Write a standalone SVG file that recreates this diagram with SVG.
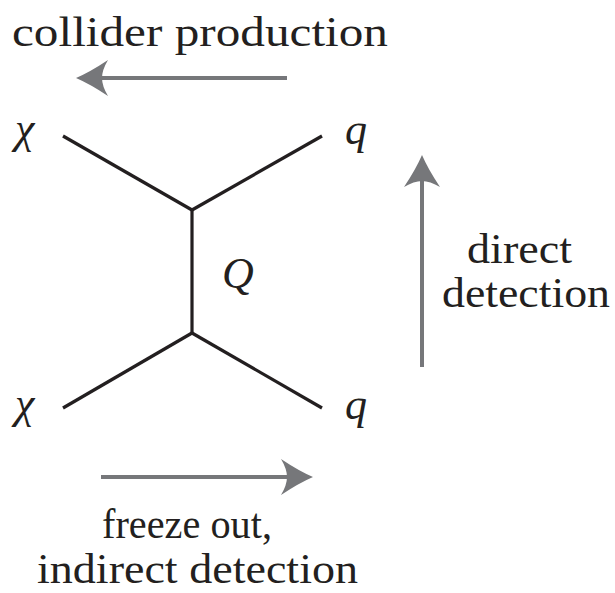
<svg xmlns="http://www.w3.org/2000/svg" width="615" height="593" viewBox="0 0 615 593">
<style>
text{fill:#231f20}
.lbl{font-size:42px}
.math{font-style:italic;font-size:44px}
.prop{stroke:#231f20;stroke-width:3.2;fill:none;stroke-linecap:butt}
.arr{stroke:#76777a;stroke-width:4;fill:none}
</style>
<defs>
<marker id="head" viewBox="-8 -19 36 38" refX="0" refY="0" markerWidth="36" markerHeight="38" markerUnits="userSpaceOnUse" orient="auto">
<path d="M26,0 Q12,-6 -6,-18 Q0,-8 0,0 Q0,8 -6,18 Q12,6 26,0 Z" fill="#76777a"/>
</marker>
</defs>
<rect width="615" height="593" fill="#ffffff"/>
<g id="connectors">
<line class="prop" x1="63" y1="136" x2="192" y2="210"/>
<line class="prop" x1="192" y1="210" x2="322" y2="136"/>
<line class="prop" x1="192" y1="210" x2="192" y2="333"/>
<line class="prop" x1="192" y1="333" x2="63" y2="408"/>
<line class="prop" x1="192" y1="333" x2="322" y2="408"/>
<line class="arr" x1="287" y1="78" x2="102" y2="78" marker-end="url(#head)"/>
<line class="arr" x1="422" y1="367" x2="422" y2="181" marker-end="url(#head)"/>
<line class="arr" x1="101" y1="477" x2="287" y2="477" marker-end="url(#head)"/>
</g>
<g font-family="Liberation Serif, DejaVu Serif, serif">
<g id="chi-top"><text class="math" x="15" y="143">χ</text></g>
<g id="chi-bottom"><text class="math" x="15" y="418">χ</text></g>
<g id="q-top"><text class="math" x="345" y="144">q</text></g>
<g id="q-bottom"><text class="math" x="345" y="419">q</text></g>
<g id="Q-label"><text class="math" x="222" y="288">Q</text></g>
<g id="collider"><text class="lbl" x="12" y="46" textLength="376" lengthAdjust="spacingAndGlyphs">collider production</text></g>
<g id="direct">
<text class="lbl" x="467" y="263" textLength="105" lengthAdjust="spacingAndGlyphs">direct</text>
<text class="lbl" x="442" y="307" textLength="168" lengthAdjust="spacingAndGlyphs">detection</text>
</g>
<g id="freeze">
<text class="lbl" x="102" y="538" textLength="170" lengthAdjust="spacingAndGlyphs">freeze out,</text>
<text class="lbl" x="37" y="583" textLength="321" lengthAdjust="spacingAndGlyphs">indirect detection</text>
</g>
</g>
</svg>
